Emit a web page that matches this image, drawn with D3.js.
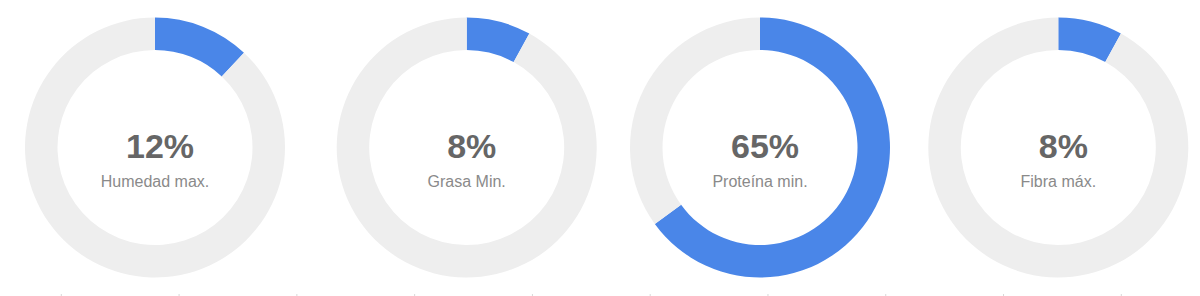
<!DOCTYPE html>
<html>
<head>
<meta charset="utf-8">
<script src="https://cdn.jsdelivr.net/npm/d3@7"></script>
<style>
html,body{margin:0;padding:0;background:#fff;}
svg{display:block;}
</style>
</head>
<body>
<svg id="chart" width="1200" height="296"></svg>
<script>
// Data
const labels = ["Humedad max.", "Grasa Min.", "Proteína min.", "Fibra máx."];
const values = [12, 8, 65, 8];
const valueLabels = ["12%", "8%", "65%", "8%"];
const tickCount = 10;

// Layout
const centersX = [155, 466.7, 760, 1058.3];
const cy = 147.5, outerR = 130, innerR = 97.5;

const svg = d3.select("#chart");
const pie = d3.pie().sort(null).value(d => d);
const arc = d3.arc().innerRadius(innerR).outerRadius(outerR);
const color = d3.scaleOrdinal().domain([0, 1]).range(["#4a86e8", "#eeeeee"]);

labels.forEach((lab, i) => {
  const g = svg.append("g").attr("transform", `translate(${centersX[i]},${cy})`);
  g.selectAll("path")
    .data(pie([values[i], 100 - values[i]]))
    .join("path")
    .attr("d", arc)
    .attr("fill", (d, j) => color(j));
  g.append("text")
    .attr("text-anchor", "middle")
    .attr("x", 5)
    .attr("y", 10)
    .attr("font-family", "Liberation Sans, Arial, sans-serif")
    .attr("font-weight", "bold")
    .attr("font-size", 34)
    .attr("fill", "#666666")
    .text(valueLabels[i]);
  g.append("text")
    .attr("text-anchor", "middle")
    .attr("y", 39.5)
    .attr("font-family", "Liberation Sans, Arial, sans-serif")
    .attr("font-size", 16)
    .attr("fill", "#8a8a8a")
    .text(lab);
});

// faint bottom tick marks
const tx = d3.scaleLinear().domain([0, tickCount - 1]).range([61.3, 1121.3]);
svg.append("g").selectAll("rect")
  .data(d3.range(tickCount))
  .join("rect")
  .attr("x", d => tx(d) - 0.5)
  .attr("y", 294)
  .attr("width", 1)
  .attr("height", 2)
  .attr("fill", "#d8d8d8");
</script>
</body>
</html>
